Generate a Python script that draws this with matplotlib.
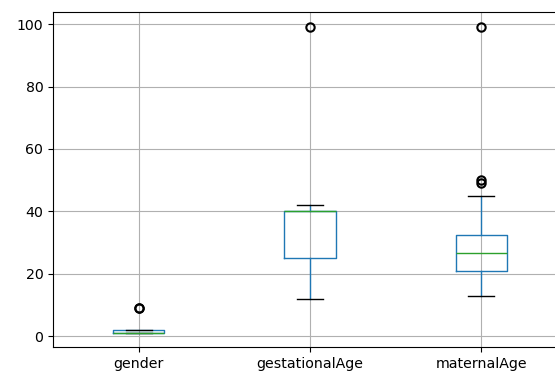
import matplotlib.pyplot as plt

columns = ["gender", "gestationalAge", "maternalAge"]
q1 = [1, 25, 21]
med = [1, 40, 26.5]
q3 = [2, 40, 32.3]
whislo = [1, 12, 13]
whishi = [2, 42, 45]
fliers = [[9, 9], [99], [49, 50, 99]]

stats = []
for i, name in enumerate(columns):
    stats.append({"label": name, "q1": q1[i], "med": med[i], "q3": q3[i],
                  "whislo": whislo[i], "whishi": whishi[i],
                  "fliers": fliers[i]})

fig = plt.figure(figsize=(5.55, 3.75), dpi=100)
ax = fig.add_axes([0.0955, 0.0747, 0.926, 0.894])

ax.bxp(stats,
       boxprops=dict(color="#1f77b4"),
       whiskerprops=dict(color="#1f77b4"),
       medianprops=dict(color="#2ca02c"),
       capprops=dict(color="black"),
       flierprops=dict(marker="o", markeredgecolor="black",
                       markerfacecolor="none", markeredgewidth=1.5))

ax.set_xlim(0.5, 3.5)
ax.set_ylim(-3.5, 104)
ax.set_yticks([0, 20, 40, 60, 80, 100])
ax.grid(True, color="#b0b0b0", linewidth=0.8)
ax.set_axisbelow(True)
ax.tick_params(labelsize=10.2)

fig.savefig("out.png", dpi=100)
